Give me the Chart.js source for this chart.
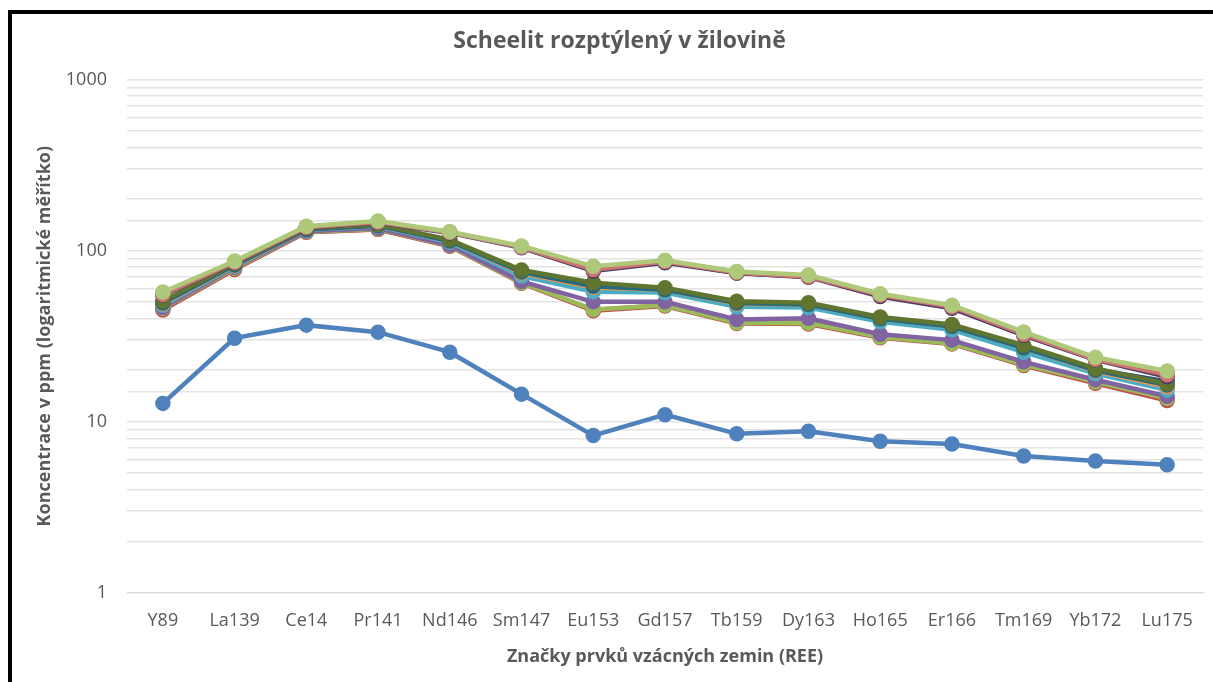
<!DOCTYPE html>
<html lang="cs">
  <head>
    <meta charset="UTF-8" />
    <title>Scheelit rozptýlený v žilovině</title>
    <script src="https://cdn.jsdelivr.net/npm/chart.js"></script>
    <style>
      body { margin: 0; background: #fff; overflow: hidden; }
      .frame {
        position: absolute; left: 8px; top: 10px;
        width: 1400px; height: 900px;
        border: 4px solid #000;
      }
      .chart-box { position: absolute; left: 0; top: 0; width: 1213px; height: 682px; }
    </style>
  </head>
  <body>
    <div class="frame"></div>
    <div class="chart-box"><canvas id="reeChart"></canvas></div>

    <script>
      const elements = ["Y89", "La139", "Ce14", "Pr141", "Nd146", "Sm147", "Eu153", "Gd157",
        "Tb159", "Dy163", "Ho165", "Er166", "Tm169", "Yb172", "Lu175"];

      // one row per analysed sample (ppm)
      const s1  = [12.8, 30.8, 36.7, 33.4, 25.5, 14.5, 8.3, 11.0, 8.5, 8.8, 7.7, 7.4, 6.3, 5.9, 5.6];
      const s2  = [45, 77.5, 128, 133, 106, 64.5, 44.5, 47.5, 37.5, 37.3, 31, 28.5, 21.3, 16.8, 13.3];
      const s3  = [46, 79, 129, 134, 107, 65, 45.3, 48, 37.9, 37.7, 31.3, 28.7, 21.6, 17.1, 13.7];
      const s4  = [46.5, 80, 130, 135, 108, 66, 50.2, 50.2, 39.6, 40.2, 32.5, 30, 22.4, 17.6, 14.1];
      const s5  = [48, 81, 132, 139, 112, 71, 57.5, 57, 47, 46.5, 38.4, 34.5, 25.5, 19.1, 15.3];
      const s6  = [49, 82, 133, 140, 114, 74, 61, 59, 49, 48.5, 40, 36, 27, 19.8, 16];
      const s7  = [50, 83, 134, 141, 115, 76, 63, 59.5, 50, 49, 40.5, 36.5, 27.5, 20.2, 17.2];
      const s8  = [56, 86, 137, 147, 128, 105, 77, 86, 74, 70.5, 55, 47, 33, 23.5, 19];
      const s9  = [50.7, 84, 135, 142, 116, 77, 65, 60.7, 50.7, 49.6, 41, 37, 28, 20.5, 16.7];
      const s10 = [55, 85, 136, 146, 127, 104, 76, 85, 74, 70, 54, 46, 32, 23, 18.3];
      const s11 = [49.5, 82.5, 133, 140, 114, 75, 62, 59, 49.5, 48.5, 40, 36, 27, 20, 16.4];
      const s12 = [45.5, 78, 128.5, 133.5, 107, 65, 45, 48, 38, 38, 31.5, 29, 21.8, 17.2, 13.5];
      const s13 = [56, 86, 138, 148, 128, 105, 78, 87, 75, 71, 55.5, 47.5, 33, 23.5, 19.2];
      const s14 = [55.5, 85.5, 137, 147, 128, 105, 77.5, 86.5, 74.5, 70.5, 55, 47, 32.5, 23.2, 18.8];
      const s15 = [57.3, 87, 139, 149, 129, 106.5, 81, 88, 75.5, 72, 56, 48, 33.5, 23.8, 19.8];

      const samples = [s1, s12, s2, s3, s4, s5, s6, s7, s11, s9, s8, s10, s13, s14, s15];
      const colors = ["#4F81BD", "#B65708", "#C0504D", "#9BBB59", "#8064A2", "#4BACC6", "#F79646",
        "#2C4D75", "#276A7C", "#5F7530", "#772C2A", "#4D3B62", "#729ACA", "#CD7371", "#AFC97A"];

      const textColor = "#595959";
      const font = "'Open Sans', 'Noto Sans', sans-serif";

      // excel draws later series on top, chart.js the other way round
      const datasets = samples.map((data, i) => ({
        label: "vzorek " + (i + 1),
        data: data,
        borderColor: colors[i],
        backgroundColor: colors[i],
        pointBackgroundColor: colors[i],
        pointBorderColor: colors[i],
        borderWidth: 4.5,
        pointRadius: 5.5,
        pointHoverRadius: 5.5,
        tension: 0,
        order: samples.length - i,
      }));

      new Chart(document.getElementById("reeChart"), {
        type: "line",
        data: { labels: elements, datasets: datasets },
        options: {
          responsive: true,
          maintainAspectRatio: false,
          animation: false,
          layout: { padding: { left: 34, right: 8, top: 14, bottom: 14 } },
          plugins: {
            legend: { display: false },
            tooltip: { enabled: false },
            title: {
              display: true,
              text: "Scheelit rozptýlený v žilovině",
              color: textColor,
              font: { family: font, size: 23, weight: "bold" },
              padding: { top: 14, bottom: 24 },
            },
          },
          scales: {
            x: {
              offset: true,
              grid: { display: false, offset: true },
              border: { color: "#D9D9D9", width: 1 },
              ticks: { color: textColor, font: { family: font, size: 18 }, padding: 9, maxRotation: 0 },
              title: {
                display: true,
                text: "Značky prvků vzácných zemin (REE)",
                color: textColor,
                font: { family: font, size: 18, weight: "bold" },
                padding: { top: 6, bottom: 0 },
              },
            },
            y: {
              type: "logarithmic",
              min: 1,
              max: 1000,
              afterFit: (scale) => { scale.width = 93; },
              grid: { color: "#E3E3E3", lineWidth: 1.5, drawTicks: false },
              border: { display: false },
              ticks: {
                color: textColor,
                font: { family: font, size: 18 },
                padding: 20,
                autoSkip: false,
                callback: (v) => ([1, 10, 100, 1000].includes(v) ? String(v) : ""),
              },
              title: {
                display: true,
                text: "Koncentrace v ppm (logaritmické měřítko)",
                color: textColor,
                font: { family: font, size: 18, weight: "bold" },
                padding: { top: 0, bottom: 0 },
              },
            },
          },
        },
      });
    </script>
  </body>
</html>
